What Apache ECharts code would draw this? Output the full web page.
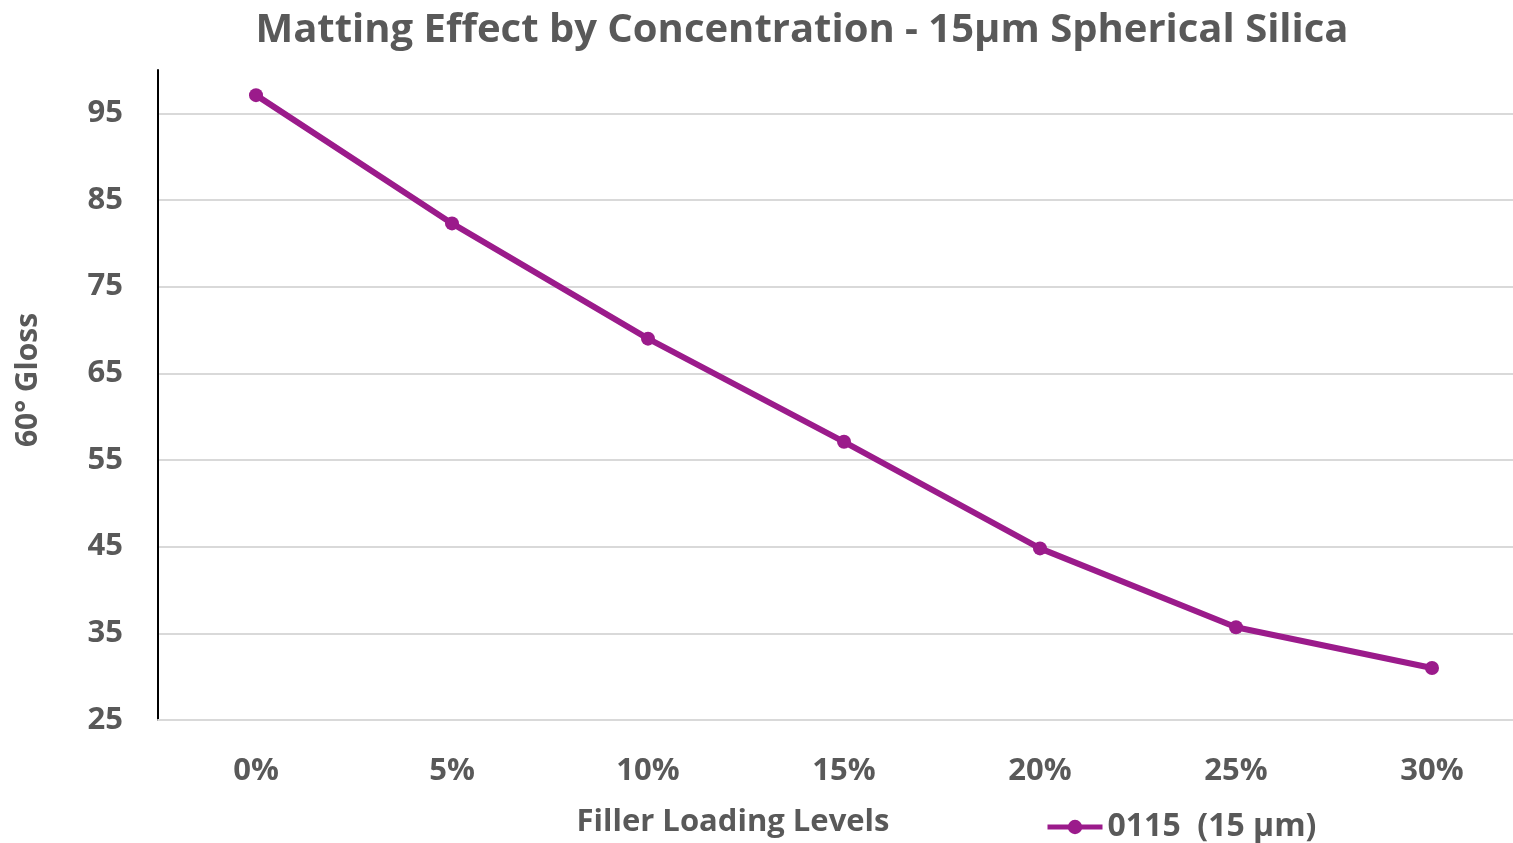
<!DOCTYPE html>
<html>
<head>
<meta charset="utf-8">
<script src="https://cdn.jsdelivr.net/npm/echarts@6/dist/echarts.min.js"></script>
<style>
html,body{margin:0;padding:0;background:#fff;}
#chart{width:1513px;height:843px;}
</style>
</head>
<body>
<div id="chart"></div>
<script>
const categories = ['0%', '5%', '10%', '15%', '20%', '25%', '30%'];
const seriesName = '0115  (15 µm)';
const glossValues = [97.1, 82.3, 69, 57.1, 44.8, 35.7, 31];
const yTicks = { min: 25, max: 100, interval: 10 };

const FONT = '"Open Sans", sans-serif';
const TXT = '#595959';
const PURPLE = '#9B1B8B';

const chart = echarts.init(document.getElementById('chart'));
chart.setOption({
  animation: false,
  backgroundColor: '#fff',
  title: [
    { text: 'Matting Effect by Concentration - 15µm Spherical Silica', left: 797, top: 6, textAlign: 'center',
      textStyle: { fontFamily: FONT, fontWeight: 'bold', fontSize: 40, color: TXT } },
    { text: 'Filler Loading Levels', left: 728, top: 802, textAlign: 'center',
      textStyle: { fontFamily: FONT, fontWeight: 'bold', fontSize: 31, color: TXT } }
  ],
  legend: {
    left: 1040, top: 806,
    itemWidth: 55, itemHeight: 18, itemGap: 10,
    lineStyle: { width: 5 },
    textStyle: { fontFamily: FONT, fontWeight: 'bold', fontSize: 32, color: TXT },
    data: [seriesName]
  },
  grid: { left: 158, width: 1372, top: 70, bottom: 123, containLabel: false, outerBoundsMode: 'none' },
  xAxis: {
    type: 'category', data: categories, boundaryGap: true,
    axisLine: { show: true, lineStyle: { color: '#d9d9d9', width: 2 } },
    axisTick: { show: false },
    axisLabel: { fontFamily: FONT, fontWeight: 'bold', fontSize: 31, color: TXT, margin: 36 },
    splitLine: { show: false }
  },
  yAxis: {
    type: 'value', min: yTicks.min, max: yTicks.max, interval: yTicks.interval,
    name: '60° Gloss', nameLocation: 'middle', nameGap: 115, nameRotate: 90,
    nameTextStyle: { fontFamily: FONT, fontWeight: 'bold', fontSize: 30, color: TXT, padding: [0, 0, 0, 30] },
    axisLine: { show: true, lineStyle: { color: '#000', width: 2 } },
    axisTick: { show: false },
    axisLabel: { fontFamily: FONT, fontWeight: 'bold', fontSize: 31, color: TXT, margin: 35, showMaxLabel: false },
    splitLine: { show: true, lineStyle: { width: 2, color: ['#d9d9d9','#d9d9d9','#d9d9d9','#d9d9d9','#d9d9d9','#d9d9d9','#d9d9d9','#d9d9d9','rgba(0,0,0,0)'] } }
  },
  series: [{
    name: seriesName, type: 'line', data: glossValues,
    symbol: 'circle', symbolSize: 14,
    lineStyle: { color: PURPLE, width: 6 },
    itemStyle: { color: PURPLE }
  }]
});
</script>
</body>
</html>
